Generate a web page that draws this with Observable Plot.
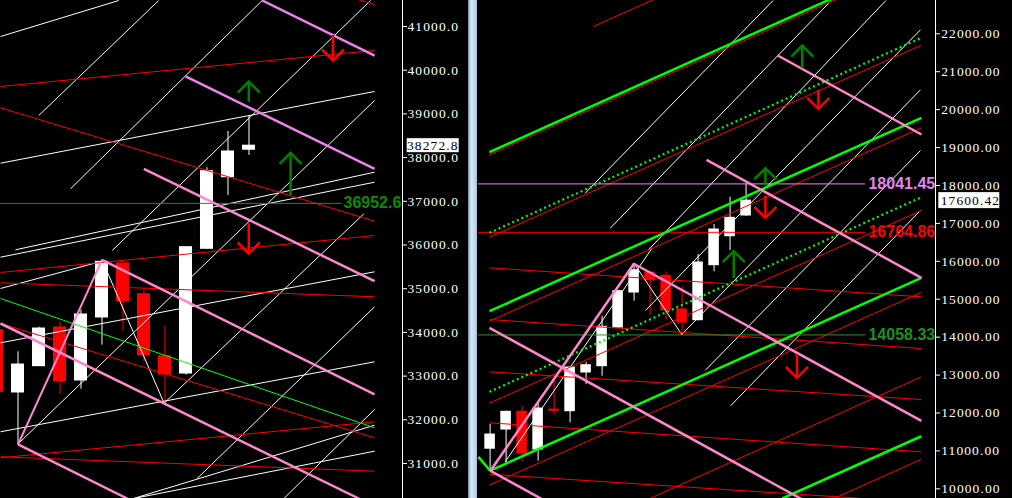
<!DOCTYPE html>
<html><head><meta charset="utf-8">
<script src="https://cdn.jsdelivr.net/npm/d3@7"></script>
<script src="https://cdn.jsdelivr.net/npm/@observablehq/plot@0.6"></script>
<style>
html,body{margin:0;padding:0;background:#000;width:1012px;height:498px;overflow:hidden;}
#left{position:absolute;left:0;top:0;width:468px;height:498px;}
#right{position:absolute;left:478px;top:0;width:534px;height:498px;}
#scroll{position:absolute;left:468px;top:0;width:9px;height:498px;box-sizing:border-box;
  background:linear-gradient(to right,#9fb9d4 0,#dbe8f5 30%,#c3d8ec 70%,#a8c1da 100%);border-left:1px solid #7f9bb8;}
svg [aria-label="y-axis tick label"] text{letter-spacing:1.1px;}
</style></head><body>
<div id="left"></div><div id="scroll"></div><div id="right"></div>
<script>
// ---------------- LEFT PANEL DATA (bar index, price) ----------------
const leftOpen  = [34050,32625,33227,34112,32900,34341,35577,34874,33455,33059,35913,37551,38180];
const leftHigh  = [34200,33556,34120,34243,34510,35660,35650,34990,34142,35960,37766,38597,38960];
const leftLow   = [32500,31435,33227,32586,32700,33707,34028,33330,32334,33020,35900,37133,38050];
const leftClose = [32640,33265,34089,32883,34410,35615,34714,33478,33037,35950,37689,38140,38272.8];
const leftTicks = [31000,32000,33000,34000,35000,36000,37000,38000,39000,40000,41000];
const leftLast = 38272.8;
const leftLevel = [36952.6];
// segments: [x1, y1, x2, y2]
const leftWhite = [
  [0.167,40771,5.80,41595],[1.99,38963,7.70,41595],[3.50,37286,12.63,41595],[5.49,35874,17.79,41595],
  [0.976,31435,17.98,39307],[7.94,32373,17.47,36714],[9.53,30657,17.98,34586],[13.66,30199,17.98,32236],
  [0.167,37872,17.98,39513],[0.88,35890,17.98,37666],[0.167,35721,17.98,37437],[0.167,35005,5.0,35629],
  [0.167,33762,17.98,35387],[0.167,31726,17.98,33327],[6.50,30199,17.98,31282],[6.50,30199,17.98,31877],
  [5,35660,8,32334]
];
const leftRed = [
  [0.167,39627,17.98,40451],[0.167,39140,17.98,36545],[0.167,35371,17.98,36217],[0.167,35135,17.98,34815],
  [0.167,34204,17.98,31588],[0.167,31131,17.98,31954],[0.167,31154,17.98,30824],[12,42374,17.98,41503]
];
const leftLime = [[0.167,34776,17.98,31817]];
const leftViolet = [[12.63,41595,17.98,40336],[8.98,39856,17.98,37744]];
const leftPink = [[6.99,37744,17.98,35172],[5,35660,17.98,32579],[0.167,34204,17.23,30199],[1,31435,6.2,30199]];
const leftZigzag = [[1,31435,5,35660]];
// arrows: [x, base, tip]
const leftUp = [[11.99,39268,39741],[13.98,37133,38110]];
const leftDown = [[16.0,40794,40222],[11.99,36485,35806]];

// ---------------- RIGHT PANEL DATA ----------------
const rightOpen  = [11058,11564,12031,11037,12090,12047,13068,13234,14254,15177,15705,15618,14729,14447,15897,16662,17208];
const rightHigh  = [11696,12050,12179,12276,12865,13220,13340,14552,15230,15942,15720,15720,15328,16179,16971,17691,18041.45];
const rightLow   = [10465,10667,10713,10728,11941,11741,12751,12970,14240,14948,14579,14447,14058.33,14430,15723,16285,17182];
const rightClose = [11432,12031,10932,12118,12060,13199,13260,14273,15212,15765,15502,14711,14386,15969,16839,17147,17600.42];
const rightTicks = [10000,11000,12000,13000,14000,15000,16000,17000,18000,19000,20000,21000,22000,23000];
const rightLast = 17600.42;
const rightLevels = [18041.45,16764.86,14058.33];
const rightLime = [
  [-0.04,18878,26.96,23990],[-0.04,14684,26.96,19785],[0,10478,26.96,15565],
  [18.26,9745,26.96,11387],[-0.725,10844,0,10478]
];
const rightLimeDotted = [[-0.04,16752,26.96,21895],[-0.04,12558,26.96,17691]];
const rightRed = [
  [-0.04,18809,26.96,23912],[-0.04,16636,26.96,21700],[-0.04,14420,26.96,19520],[-0.04,12260,26.96,17340],
  [-0.04,10100,26.96,15180],[-0.04,7851,26.96,12954],[-0.04,5678,26.96,10781],[6.46,22193,26.96,26068],
  [-0.04,15829,26.96,15064],[-0.04,14465,26.96,13700],[-0.04,13086,26.96,12355],[-0.04,11741,26.96,10976],
  [-0.04,10385,26.96,9645]
];
const rightPink = [
  [17.98,21428,26.96,19344],[13.53,18677,26.96,15565],[8.96,15942,26.96,11794],
  [-0.04,14246,26.96,7996],[0,10478,5,9323],[0,10465,9,15942]
];
const rightWhite = [
  [5.94,17796,17.69,22878],[7.51,16873,21.33,22878],[9.9,16303,24.74,22878],[9.71,14703,26.9,22105],
  [11.98,14070,26.9,20523],[13.46,13128,26.9,18922],[15.03,12189,26.9,17340],
  [0.94,10712,10.11,16338],[9,15942,12,14058.33]
];
const rightUp = [[19.51,21077,21691],[17.21,18000,18455],[15.23,15547,16267]];
const rightDown = [[20.52,20505,20022],[17.21,17709,17147],[19.18,13542,12928]];

// ---------------- RENDERING ----------------
const toCandles = (o,h,l,c) => o.map((v,k)=>({i:k, open:v, high:h[k], low:l[k], close:c[k]}));
const chevron = dir => ({draw(ctx, size){ const s = Math.sqrt(size/Math.PI);
  ctx.moveTo(-s, dir*s); ctx.lineTo(0,0); ctx.lineTo(s, dir*s); }});

function seg(data, stroke, strokeWidth, extra = {}) {
  return Plot.link(data, {x1:d=>d[0], y1:d=>d[1], x2:d=>d[2], y2:d=>d[3], stroke, strokeWidth, clip:true, ...extra});
}
function arrows(data, color, dir) {
  return [
    Plot.ruleX(data, {x:d=>d[0], y1:d=>d[1], y2:d=>d[2], stroke:color, strokeWidth:2.5}),
    Plot.dot(data, {x:d=>d[0], y:d=>d[2], r:11, symbol:chevron(dir), stroke:color, strokeWidth:2.5, fill:"none"})
  ];
}
function panel(cfg) {
  const up = d => d.close >= d.open;
  const marks = [
    Plot.ruleX(cfg.candles, {x:"i", y1:"low", y2:"high", stroke:d=>up(d)?"#ffffff":"#ff0000", strokeWidth:1, clip:true}),
    Plot.rect(cfg.candles, {x1:d=>d.i-cfg.hw, x2:d=>d.i+cfg.hw, y1:d=>Math.min(d.open,d.close), y2:d=>Math.max(d.open,d.close),
      fill:d=>up(d)?"#ffffff":"#ff0000", insetTop:-0.5, insetBottom:-0.5, clip:true}),
    ...cfg.layers,
    Plot.ruleX([cfg.x[1]], {stroke:"#ffffff", strokeWidth:1}),
    Plot.axisY(cfg.ticks, {anchor:"right", tickSize:4, tickPadding:cfg.pad, tickFormat:d=>d.toFixed(cfg.dec), color:"#ffffff"})
  ];
  const svg = Plot.plot({
    width: cfg.width, height: 498, marginLeft: 0, marginRight: cfg.mr, marginTop: 0, marginBottom: 0,
    x: {domain: cfg.x, axis: null}, y: {domain: cfg.y},
    color: {type: "identity"},
    style: {background:"#000", color:"#fff", fontFamily:"Liberation Serif", fontSize:"13.5px"},
    marks
  });
  // last-price tag
  const xs = svg.scale("x"), ys = svg.scale("y");
  const x0 = xs.range[1] + cfg.tagDx, y0 = ys.apply(cfg.last);
  const g = d3.select(svg).append("g");
  g.append("rect").attr("x", x0).attr("y", y0 - cfg.tagH/2).attr("width", cfg.tagW).attr("height", cfg.tagH).attr("fill", "#fff");
  g.append("text").attr("x", xs.range[1] + 4 + cfg.pad).attr("y", y0).attr("dy", "0.34em")
    .attr("text-anchor", "start")
    .attr("fill", "#000").attr("font-family", "Liberation Serif").attr("font-size", 13.5)
    .style("letter-spacing", "1.1px").text(cfg.last.toFixed(cfg.dec));
  return svg;
}

const boldLabel = (values, x, fill, dec) => Plot.text(values, {x, y:d=>d, text:d=>d.toFixed(dec), textAnchor:"start",
  fill, fontWeight:"bold", fontSize:16, fontFamily:"Liberation Sans"});

const leftSvg = panel({
  width: 468, mr: 66, x: [0.1667, 19.31], y: [30199, 41595], ticks: leftTicks, dec: 1, pad: 1,
  candles: toCandles(leftOpen, leftHigh, leftLow, leftClose), hw: 0.31, last: leftLast, tagDx: 4.7, tagW: 52, tagH: 14,
  layers: [
    seg(leftWhite, "#ffffff", 1),
    seg(leftRed, "#ff0000", 1),
    seg(leftLime, "#00ff00", 1),
    Plot.ruleY(leftLevel, {x1: 0.1667, x2: 16.45, stroke: "#00a000", strokeWidth: 1}),
    seg(leftViolet, "#ee82ee", 2.5),
    seg(leftPink, "#ff88cc", 2.5),
    seg(leftZigzag, "#ff88cc", 2),
    ...arrows(leftUp, "#008000", 1),
    ...arrows(leftDown, "#ff0000", -1),
    boldLabel(leftLevel, 16.5, "#0a8c0a", 1)
  ]
});

const levelColors = ["#ee88ee", "#ff0000", "#1f9a1f"];
const labelColors = ["#e484ea", "#ff0000", "#1f8f1f"];
const rightSvg = panel({
  width: 534, mr: 77, x: [-0.725, 27.84], y: [9745, 22878], ticks: rightTicks, dec: 2, pad: 1.7,
  candles: toCandles(rightOpen, rightHigh, rightLow, rightClose), hw: 0.33, last: rightLast, tagDx: 3.3, tagW: 61, tagH: 16,
  layers: [
    seg(rightWhite, "#ffffff", 1),
    seg(rightRed, "#ff0000", 1),
    ...rightLevels.map((v,k) => Plot.ruleY([v], {x1: -0.725, x2: 23.46, stroke: levelColors[k], strokeWidth: 1})),
    seg(rightLimeDotted, "#00ff00", 2.2, {strokeDasharray: "2,3"}),
    seg(rightLime, "#00ff00", 2.5),
    seg(rightPink, "#ff88cc", 2.5),
    ...arrows(rightUp, "#008000", 1),
    ...arrows(rightDown, "#ff0000", -1),
    ...rightLevels.map((v,k) => boldLabel([v], 23.65, labelColors[k], 2))
  ]
});

document.getElementById("left").append(leftSvg);
document.getElementById("right").append(rightSvg);
</script></body></html>
